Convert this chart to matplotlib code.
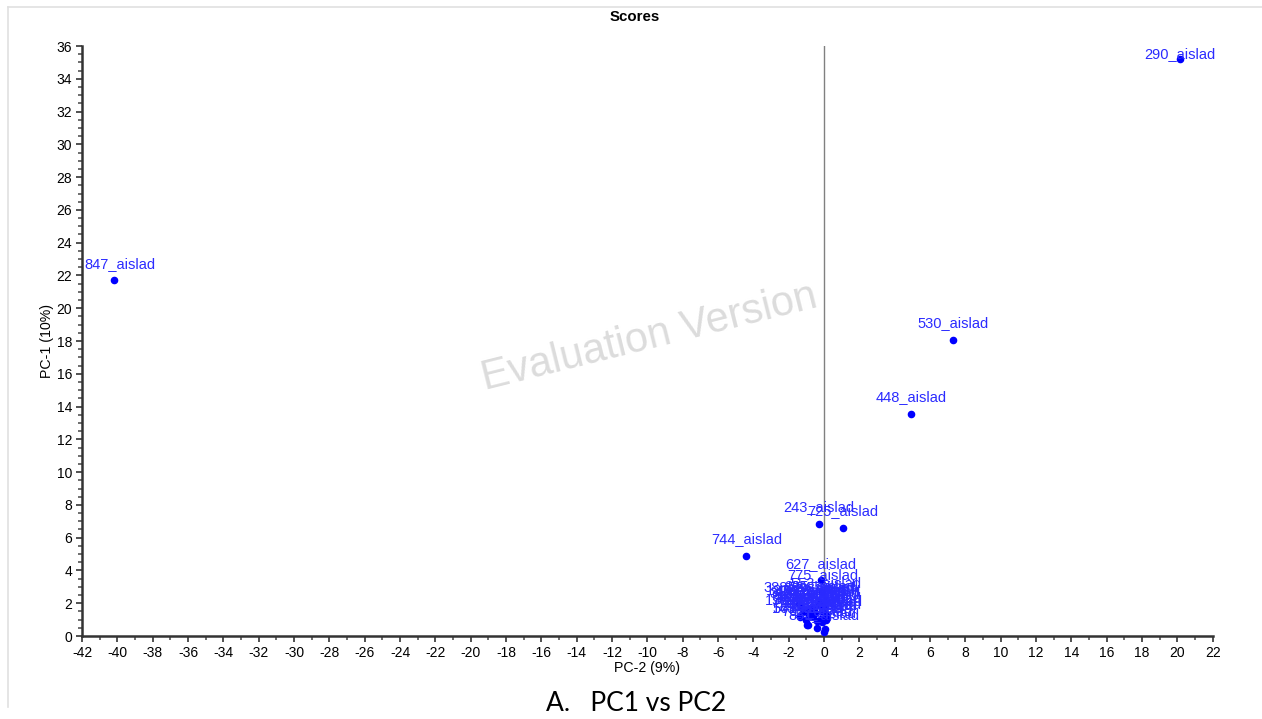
import matplotlib.pyplot as plt
from matplotlib.ticker import MultipleLocator

plt.rcParams['axes.unicode_minus'] = False

# Scores PC-2 (x) vs PC-1 (y)
names = ['290_aislad', '847_aislad', '530_aislad', '448_aislad', '243_aislad',
         '725_aislad', '744_aislad', '627_aislad', '775_aislad', '553_aislad',
         '388_aislad', '152_aislad', '561_aislad', '25_aislad', '318_aislad',
         '402_aislad', '117_aislad', '689_aislad', '204_aislad', '733_aislad',
         '96_aislad', '471_aislad', '615_aislad', '338_aislad', '809_aislad',
         '57_aislad', '266_aislad', '590_aislad', '143_aislad', '702_aislad',
         '418_aislad', '851_aislad', '183_aislad', '524_aislad', '367_aislad',
         '641_aislad', '72_aislad', '295_aislad', '786_aislad', '439_aislad']
pc2 = [20.15, -40.2, 7.3, 4.92, -0.28,
       1.07, -4.4, -0.2, -0.1, 0.12,
       -1.4, -1.35, -0.9, 0.05, -1.1,
       -0.7, -0.5, -0.3, 0.0, 0.1,
       -1.2, -0.8, -0.6, -0.2, 0.08,
       -1.0, -0.4, -0.1, -0.96, -0.4,
       -0.1, 0.0, -1.3, -0.05, -0.85,
       0.15, -0.55, -0.25, 0.1, -0.75]
pc1 = [35.2, 21.7, 18.05, 13.55, 6.83,
       6.62, 4.88, 3.4, 2.7, 2.2,
       1.95, 1.15, 0.7, 0.4, 1.6,
       1.8, 1.4, 1.9, 1.6, 1.3,
       1.45, 1.7, 1.2, 1.05, 1.75,
       1.0, 0.9, 1.5, 0.67, 0.5,
       0.85, 0.25, 1.8, 1.95, 1.25,
       1.1, 1.55, 2.05, 0.95, 1.35]

# label offsets in points (edge labels are nudged to stay inside the plot)
offsets = {'290_aislad': (0, -1), '847_aislad': (4.5, 7)}

fig = plt.figure(figsize=(12.62, 7.19), dpi=100)
ax = fig.add_axes([0.065, 0.1154, 0.896, 0.8206])

ax.axvline(0, color='#808080', lw=1, zorder=1)
ax.scatter(pc2, pc1, s=20, color='#0000ff', zorder=3)
for n, x, y in zip(names, pc2, pc1):
    ax.annotate(n, (x, y), xytext=offsets.get(n, (0, 7)), textcoords='offset points',
                ha='center', va='bottom', fontsize=10.5, color='#2b2bff',
                family='Liberation Sans', zorder=4)

ax.set_xlim(-42, 22)
ax.set_ylim(0, 36)
ax.xaxis.set_major_locator(MultipleLocator(2))
ax.xaxis.set_minor_locator(MultipleLocator(1))
ax.yaxis.set_major_locator(MultipleLocator(2))
ax.yaxis.set_minor_locator(MultipleLocator(0.5))
ax.spines['top'].set_visible(False)
ax.spines['right'].set_visible(False)
ax.spines['left'].set_linewidth(1.8)
ax.spines['bottom'].set_linewidth(1.8)
ax.spines['left'].set_color('#333333')
ax.spines['bottom'].set_color('#333333')
ax.tick_params(which='major', length=4, width=1.2, labelsize=10, pad=3, color='#333333')
ax.tick_params(which='minor', length=3, width=1.2, color='#555555')
for lab in ax.get_xticklabels() + ax.get_yticklabels():
    lab.set_family('Liberation Sans')

ax.set_xlabel('PC-2 (9%)', fontsize=10.2, family='Liberation Sans', labelpad=1)
ax.set_ylabel('PC-1 (10%)', fontsize=10.2, family='Liberation Sans', labelpad=2)

fig.text(0.503, 0.977, 'Scores', ha='center', va='center', fontsize=10.8,
         fontweight='bold', family='Liberation Sans')

# watermark
ax.text(0.502, 0.505, 'Evaluation Version', transform=ax.transAxes,
        ha='center', va='center', fontsize=30, color='#dcdcdc',
        rotation=14, family='Liberation Sans', zorder=0)

# frame lines around the chart area
fig.add_artist(plt.Line2D([0.0065, 0.0065], [0.017, 0.99], color='#e0e0e0',
                          lw=1.2, transform=fig.transFigure))
fig.add_artist(plt.Line2D([0.0065, 1.0], [0.99, 0.99], color='#e0e0e0',
                          lw=1.2, transform=fig.transFigure))

fig.text(0.504, 0.022, 'A.   PC1 vs PC2', ha='center', va='center',
         fontsize=19, family='Lato')

fig.savefig('out.png', dpi=100)
